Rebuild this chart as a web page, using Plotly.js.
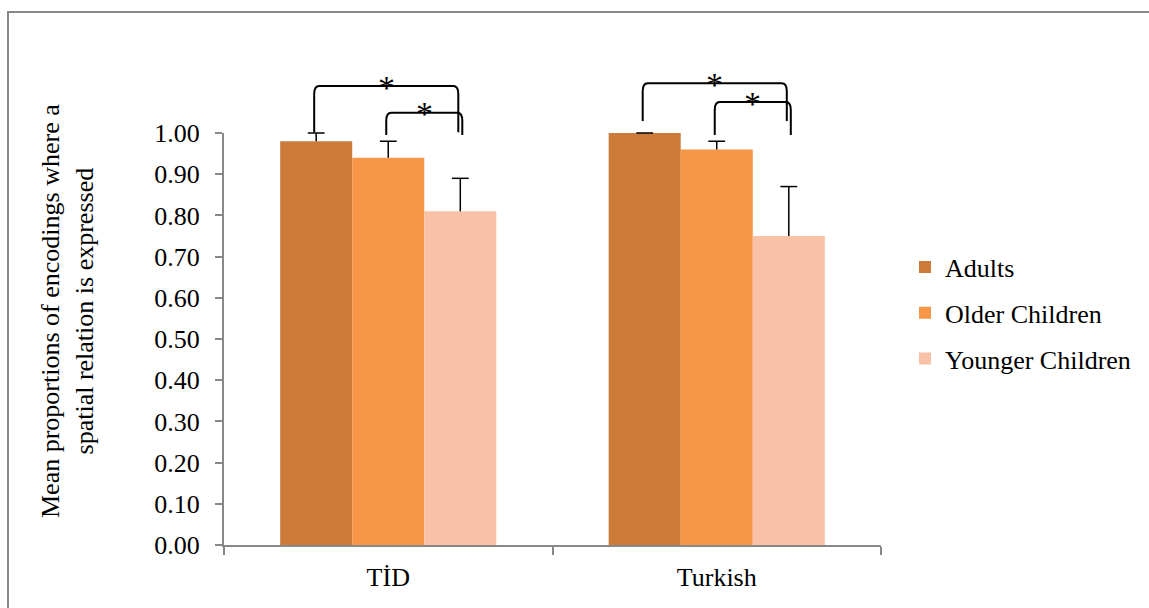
<!DOCTYPE html>
<html><head><meta charset="utf-8">
<script src="https://cdn.plot.ly/plotly-3.0.1.min.js"></script>
<style>
html,body{margin:0;padding:0;background:#fff;overflow:hidden}
#chart{width:1149px;height:608px}
#frame{position:absolute;left:7px;top:11px;right:-10px;bottom:-10px;border-left:2px solid #888;border-top:2px solid #888;pointer-events:none}
</style></head><body>
<div id="chart"></div><div id="frame"></div>
<script>
// ---- data ----
const categories = ['TİD', 'Turkish'];
const seriesNames = ['Adults', 'Older Children', 'Younger Children'];
const adults = [0.98, 1.00];
const olderChildren = [0.94, 0.96];
const youngerChildren = [0.81, 0.75];
const adultsErr = [0.02, 0.00];
const olderErr = [0.04, 0.02];
const youngerErr = [0.08, 0.12];
const yTickVals = [0, 0.1, 0.2, 0.3, 0.4, 0.5, 0.6, 0.7, 0.8, 0.9, 1.0];
const yTickText = ['0.00','0.10','0.20','0.30','0.40','0.50','0.60','0.70','0.80','0.90','1.00'];
const yTitle = 'Mean proportions of encodings where a<br>spatial relation is expressed';
// significance brackets: category, from series, to series, bracket level, leg ends
const bracketCat = [0, 0, 1, 1];
const bracketFrom = [0, 1, 0, 1];
const bracketTo = [2, 2, 2, 2];
const bracketTop = [1.114, 1.049, 1.121, 1.075];
const bracketLeftEnd = [1.002, 0.995, 1.029, 0.995];
const bracketRightEnd = [1.002, 0.995, 1.029, 0.995];
const bracketLabel = ['*', '*', '*', '*'];

// ---- style ----
const colors = ['#CC7B3A', '#F79646', '#F9C2A7'];
const FONT = 'Liberation Serif, Times New Roman, serif';
const FS = 26;
const bargap = 0.342;
const values = [adults, olderChildren, youngerChildren];
const errs = [adultsErr, olderErr, youngerErr];
const nS = values.length;
const bw = (1 - bargap) / nS;
const xr = [-0.5, categories.length - 0.5];

const traces = values.map((v, i) => ({
  type: 'bar', name: seriesNames[i], x: categories, y: v,
  legendgroup: 'g' + i,
  marker: {color: colors[i], line: {width: 0}},
  error_y: {type: 'data', symmetric: false, array: errs[i], arrayminus: errs[i].map(() => 0),
            color: '#000', thickness: 1.5, width: 0},
  hoverinfo: 'skip'
}));
// error-bar caps on an overlaid numeric axis aligned with the category axis
values.forEach((v, i) => {
  traces.push({
    type: 'scatter', mode: 'markers', xaxis: 'x2', showlegend: false, hoverinfo: 'skip',
    x: categories.map((c, k) => k + (i - (nS - 1) / 2) * bw),
    y: v.map((val, k) => val + errs[i][k]),
    marker: {symbol: 'line-ew', size: 12, line: {color: '#000', width: 1.5}}, cliponaxis: false
  });
});

function barCenterPaper(cat, s) {
  const xv = cat + (s - (nS - 1) / 2) * bw;
  return (xv - xr[0]) / (xr[1] - xr[0]);
}
const plotW = 1149 - 224 - 268, plotH = 608 - 133 - 63;
const rx = 5 / plotW, ry = 8 / plotH;
const shapes = [], annotations = [];
for (let k = 0; k < bracketCat.length; k++) {
  const big = bracketTo[k] - bracketFrom[k] > 1;
  const x0 = barCenterPaper(bracketCat[k], bracketFrom[k]) - 2 / plotW;
  const x1 = barCenterPaper(bracketCat[k], bracketTo[k]) + (big ? -2 : 2) / plotW;
  const yt = bracketTop[k], y0 = bracketLeftEnd[k], y1 = bracketRightEnd[k];
  const path = `M${x0},${y0} L${x0},${yt - ry} Q${x0},${yt} ${x0 + rx},${yt} L${x1 - rx},${yt} Q${x1},${yt} ${x1},${yt - ry} L${x1},${y1}`;
  shapes.push({type: 'path', xref: 'paper', yref: 'paper', path: path, line: {color: '#000', width: 2}});
  annotations.push({xref: 'paper', yref: 'paper', x: (x0 + x1) / 2, y: yt, text: bracketLabel[k],
    showarrow: false, xanchor: 'center', yanchor: 'middle', yshift: -1, font: {family: FONT, size: 34, color: '#000'}});
}
annotations.push({xref: 'paper', yref: 'paper', x: (67 - 224) / plotW, y: (545 - 311) / plotH,
  text: yTitle, textangle: -90, showarrow: false, xanchor: 'center', yanchor: 'middle',
  font: {family: FONT, size: FS, color: '#000'}});

const layout = {
  width: 1149, height: 608,
  margin: {l: 224, r: 268, t: 133, b: 63},
  paper_bgcolor: '#fff', plot_bgcolor: '#fff',
  font: {family: FONT, size: FS, color: '#000'},
  barmode: 'group', bargap: bargap, bargroupgap: 0,
  showlegend: true,
  legend: {x: (905 - 224) / plotW, xanchor: 'left', y: (545 - 313) / plotH, yanchor: 'middle',
           traceorder: 'grouped', tracegroupgap: 9, font: {family: FONT, size: FS, color: '#000'},
           bgcolor: 'rgba(0,0,0,0)'},
  xaxis: {type: 'category', range: xr, showline: true, linecolor: '#888', linewidth: 2,
          ticks: 'outside', tickson: 'boundaries', ticklen: 8, tickcolor: '#888', tickwidth: 2,
          ticklabelstandoff: 8,
          showgrid: false, zeroline: false, tickfont: {family: FONT, size: FS, color: '#000'}},
  xaxis2: {overlaying: 'x', range: xr, visible: false, showgrid: false, zeroline: false},
  yaxis: {range: [0, 1], tickvals: yTickVals, ticktext: yTickText, showline: true, linecolor: '#888', linewidth: 2,
          ticks: 'outside', ticklen: 7, tickcolor: '#888', tickwidth: 2, ticklabelstandoff: 10,
          showgrid: false, zeroline: false, tickfont: {family: FONT, size: FS, color: '#000'}},
  shapes: shapes, annotations: annotations
};
Plotly.newPlot('chart', traces, layout, {displayModeBar: false, staticPlot: true});
</script></body></html>
